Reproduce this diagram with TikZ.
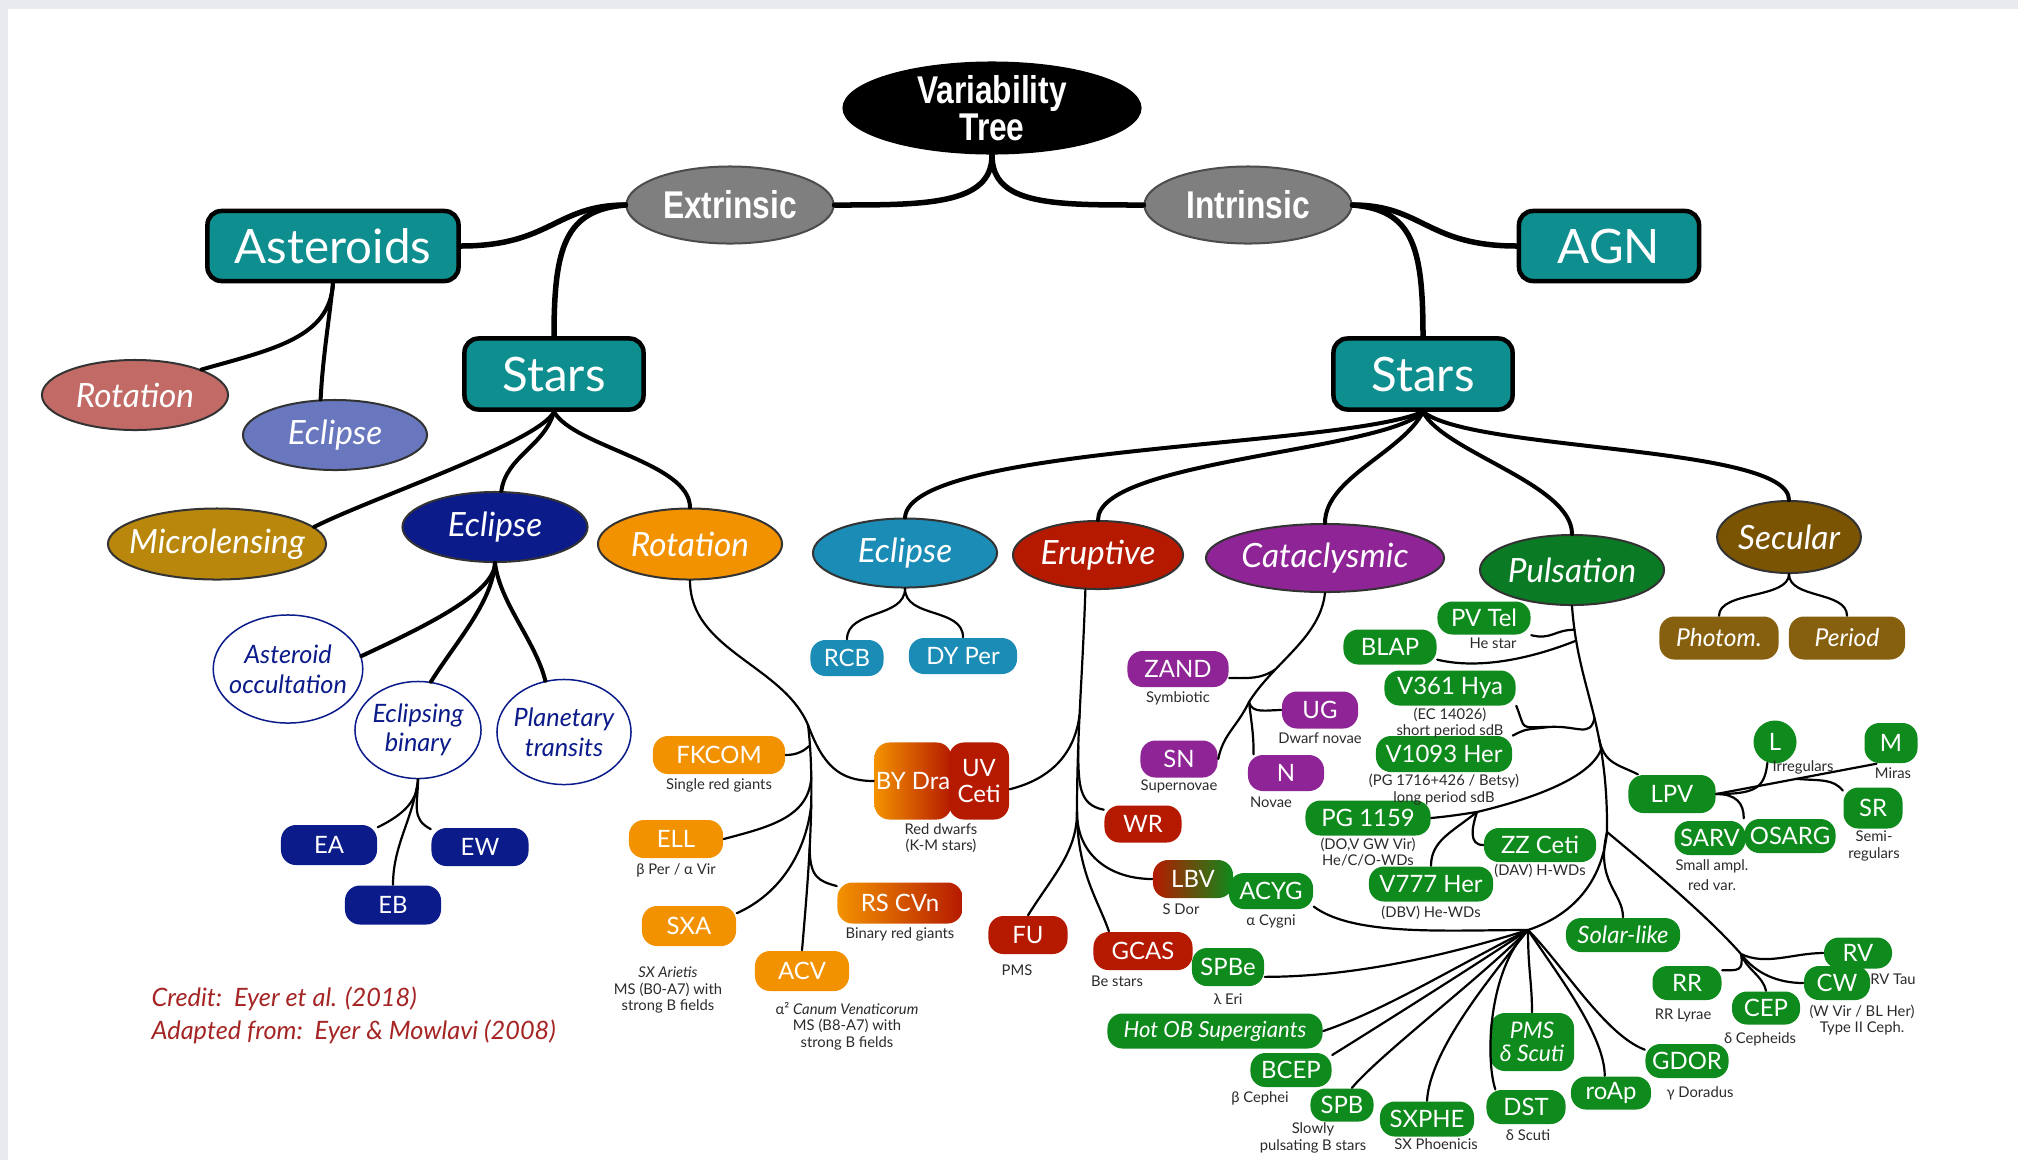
\documentclass[tikz,border=0pt]{standalone}
\usepackage{fontspec}
\setmainfont{Lato}
\newfontfamily\narrowsans[FakeStretch=0.82]{Liberation Sans}
\usetikzlibrary{positioning,shapes.geometric}
\definecolor{Frame}{HTML}{E8EAEE}
\definecolor{Teal}{HTML}{0E8E8E}
\definecolor{Slate}{HTML}{7F7F7F}
\definecolor{Rose}{HTML}{C26B66}
\definecolor{Lilac}{HTML}{6877BE}
\definecolor{Ochre}{HTML}{B8870B}
\definecolor{Navy}{HTML}{0B1B8A}
\definecolor{Amber}{HTML}{F39200}
\definecolor{Ocean}{HTML}{1B8CB5}
\definecolor{Crimson}{HTML}{B51A00}
\definecolor{Plum}{HTML}{8E2496}
\definecolor{Forest}{HTML}{0B7A24}
\definecolor{Leaf}{HTML}{0F8A1C}
\definecolor{Umber}{HTML}{7A5400}
\definecolor{Bronze}{HTML}{86600F}
\definecolor{Ink}{HTML}{2B2B2B}
\definecolor{Brick}{HTML}{A52525}

\begin{document}
\begin{tikzpicture}[x=0.01cm,y=0.01cm,
    sz/.style 2 args={minimum width=#1cm,minimum height=#2cm},
    box/.style={draw=black,line width=0.045cm,rounded corners=0.14cm,fill=Teal,text=white,
                inner sep=0pt,font=\fontsize{13.5}{15}\selectfont},
    split/.style={ellipse,draw=black!70,line width=0.02cm,fill=Slate,text=white,inner sep=0pt,
                  sz={2.07}{0.77},font=\narrowsans\bfseries\fontsize{11}{12}\selectfont},
    oval/.style={ellipse,draw=black!80,line width=0.02cm,text=white,inner sep=0pt,
                 font=\itshape\fontsize{9.5}{10}\selectfont},
    ring/.style={ellipse,draw=Navy,line width=0.015cm,fill=white,text=Navy,inner ysep=0pt,
                 inner xsep=-0.06cm,align=center,font=\itshape\fontsize{7.2}{8.4}\selectfont},
    pill/.style={rounded corners=0.15cm,text=white,inner sep=0pt,align=center,
                 font=\fontsize{6.8}{7.4}\selectfont},
    sub/.style={inner sep=0pt,align=center,text=Ink,font=\fontsize{4.2}{4.7}\selectfont},
    lvl1/.style={line width=0.055cm,line cap=round},
    lvl2/.style={line width=0.04cm,line cap=round},
    lvl3/.style={line width=0.022cm,line cap=round}]

\fill[Frame] (0,0) rectangle (2018,-1160);
\fill[white] (8,-9) rectangle (2018,-1160);
\useasboundingbox (0,0) rectangle (2018,-1160);

% top of the tree
\node[ellipse,fill=black,text=white,sz={2.99}{0.93},inner sep=0pt,align=center,
      font=\narrowsans\bfseries\fontsize{11}{10.5}\selectfont] (root) at (992,-108) {Variability\\Tree};
\node[split] (extr) at (730,-205) {Extrinsic};
\node[split] (intr) at (1248,-205) {Intrinsic};
\node[box,sz={2.51}{0.70}] (ast) at (333,-246) {Asteroids};
\node[box,sz={1.80}{0.70}] (agn) at (1609,-246) {AGN};
\node[box,sz={1.79}{0.71}] (starsL) at (554,-374) {Stars};
\node[box,sz={1.79}{0.71}] (starsR) at (1423,-374) {Stars};

% classes
\node[oval,fill=Rose,sz={1.86}{0.70}] (rotA) at (135,-395) {Rotation};
\node[oval,fill=Lilac,sz={1.84}{0.70}] (eclA) at (335,-435) {Eclipse};
\node[oval,fill=Ochre,sz={2.18}{0.71},inner xsep=-0.2cm] (micro) at (217,-544) {Microlensing};
\node[oval,fill=Navy,sz={1.85}{0.70}] (eclN) at (495,-527) {Eclipse};
\node[oval,fill=Amber,sz={1.84}{0.71}] (rotO) at (690,-544) {Rotation};
\node[oval,fill=Ocean,sz={1.84}{0.69}] (eclC) at (905,-553) {Eclipse};
\node[oval,fill=Crimson,sz={1.70}{0.68}] (eru) at (1098,-555) {Eruptive};
\node[oval,fill=Plum,sz={2.38}{0.68}] (cat) at (1325,-558) {Cataclysmic};
\node[oval,fill=Forest,sz={1.84}{0.70}] (puls) at (1572,-570) {Pulsation};
\node[oval,fill=Umber,sz={1.41}{0.72}] (sec) at (1789,-537) {Secular};

% eclipse (extrinsic)
\node[ring,sz={1.48}{1.08}] (aocc) at (288,-669) {Asteroid\\occultation};
\node[ring,sz={1.26}{0.97}] (ebin) at (418,-730) {Eclipsing\\binary};
\node[ring,sz={1.34}{1.05}] (ptr) at (564,-732) {Planetary\\transits};
\node[pill,fill=Navy,sz={0.96}{0.40}] (ea) at (329,-845) {EA};
\node[pill,fill=Navy,sz={0.97}{0.38}] (ew) at (480,-847) {EW};
\node[pill,fill=Navy,sz={0.96}{0.39}] (eb) at (393,-905) {EB};

% rotation
\node[pill,fill=Amber,sz={1.32}{0.38}] (fkcom) at (719,-755) {FKCOM};
\node[pill,fill=Amber,sz={0.94}{0.38}] (ell) at (676,-839) {ELL};
\node[pill,fill=Amber,sz={0.94}{0.40}] (sxa) at (689,-926) {SXA};
\node[pill,fill=Amber,sz={0.94}{0.40}] (acv) at (802,-971) {ACV};
\node[pill,left color=Amber,right color=Crimson,sz={1.25}{0.41}] (rscvn) at (900,-903) {RS CVn};
\node[pill,left color=Amber,right color=Crimson,sz={0.77}{0.77}] (bydra) at (913,-781) {BY Dra};
\node[pill,fill=Crimson,sz={0.60}{0.77}] (uvceti) at (979,-781) {UV\\Ceti};

% eclipse (intrinsic)
\node[pill,fill=Ocean,sz={0.73}{0.36}] (rcb) at (847,-658) {RCB};
\node[pill,fill=Ocean,sz={1.08}{0.36}] (dyper) at (963,-656) {DY Per};

% eruptive
\node[pill,fill=Crimson,sz={0.77}{0.37}] (wr) at (1143,-824) {WR};
\node[pill,fill=Crimson,sz={0.79}{0.38}] (fu) at (1028,-935) {FU};
\node[pill,fill=Crimson,sz={0.99}{0.38}] (gcas) at (1143,-951) {GCAS};
\node[pill,left color=Crimson,right color=Leaf,sz={0.80}{0.38}] (lbv) at (1193,-879) {LBV};
\node[pill,fill=Leaf,sz={0.84}{0.36}] (acyg) at (1271,-891) {ACYG};
\node[pill,fill=Leaf,sz={0.72}{0.38}] (spbe) at (1228,-967) {SPBe};

% cataclysmic
\node[pill,fill=Plum,sz={1.01}{0.36}] (zand) at (1178,-669) {ZAND};
\node[pill,fill=Plum,sz={0.76}{0.37}] (ug) at (1320,-710) {UG};
\node[pill,fill=Plum,sz={0.77}{0.37}] (sn) at (1179,-759) {SN};
\node[pill,fill=Plum,sz={0.76}{0.36}] (n) at (1286,-773) {N};

% pulsation
\node[pill,fill=Leaf,sz={0.93}{0.33}] (pvtel) at (1484,-618) {PV Tel};
\node[pill,fill=Leaf,sz={0.93}{0.35}] (blap) at (1390,-647) {BLAP};
\node[pill,fill=Leaf,sz={1.31}{0.35}] (v361) at (1450,-688) {V361 Hya};
\node[pill,fill=Leaf,sz={1.36}{0.36}] (v1093) at (1444,-754) {V1093 Her};
\node[pill,fill=Leaf,sz={1.25}{0.35}] (pg) at (1368,-818) {PG 1159};
\node[pill,fill=Leaf,sz={1.12}{0.34}] (zz) at (1540,-845) {ZZ Ceti};
\node[pill,fill=Leaf,sz={1.24}{0.35}] (v777) at (1431,-884) {V777 Her};
\node[pill,fill=Leaf,sz={1.14}{0.34},font=\itshape\fontsize{6.8}{7.4}\selectfont] (solar) at (1623,-935) {Solar-like};
\node[pill,fill=Leaf,sz={0.87}{0.38}] (lpv) at (1672,-794) {LPV};
\node[circle,fill=Leaf,text=white,minimum size=0.43cm,inner sep=0pt,font=\fontsize{6.8}{7.4}\selectfont] (lnode) at (1775,-742) {L};
\node[pill,fill=Leaf,sz={0.53}{0.40}] (m) at (1891,-743) {M};
\node[pill,fill=Leaf,sz={0.59}{0.41}] (sr) at (1873,-808) {SR};
\node[pill,fill=Leaf,sz={0.71}{0.34}] (sarv) at (1710,-838) {SARV};
\node[pill,fill=Leaf,sz={0.91}{0.34}] (osarg) at (1790,-836) {OSARG};
\node[pill,fill=Leaf,sz={0.68}{0.31}] (rv) at (1858,-953) {RV};
\node[pill,fill=Leaf,sz={0.66}{0.34}] (cw) at (1837,-983) {CW};
\node[pill,fill=Leaf,sz={0.68}{0.33}] (cep) at (1766,-1008) {CEP};
\node[pill,fill=Leaf,sz={0.69}{0.34}] (rr) at (1687,-983) {RR};
\node[pill,fill=Leaf,sz={0.83}{0.34}] (gdor) at (1687,-1061) {GDOR};
\node[pill,fill=Leaf,sz={0.80}{0.33}] (roap) at (1611,-1093) {roAp};
\node[pill,fill=Leaf,sz={0.79}{0.34}] (dst) at (1526,-1107) {DST};
\node[pill,fill=Leaf,sz={0.84}{0.58},font=\itshape\fontsize{6.5}{6.6}\selectfont] (pms) at (1532,-1042) {PMS\\δ Scuti};
\node[pill,fill=Leaf,sz={0.94}{0.35}] (sxphe) at (1427,-1119) {SXPHE};
\node[pill,fill=Leaf,sz={0.63}{0.33}] (spb) at (1342,-1105) {SPB};
\node[pill,fill=Leaf,sz={0.81}{0.34}] (bcep) at (1291,-1070) {BCEP};
\node[pill,fill=Leaf,sz={2.15}{0.35},font=\itshape\fontsize{6.3}{7}\selectfont] (hotob) at (1215,-1031) {Hot OB Supergiants};

% secular
\node[pill,fill=Bronze,sz={1.19}{0.43},font=\itshape\fontsize{7}{8}\selectfont] (photom) at (1719,-638) {Photom.};
\node[pill,fill=Bronze,sz={1.16}{0.43},font=\itshape\fontsize{7}{8}\selectfont] (period) at (1847,-638) {Period};

% small captions
\node[sub,below=0.03cm of fkcom] (fkcomL) {Single red giants};
\node[sub,below=0.04cm of ell] (ellL) {β Per / α Vir};
\node[sub] (sxaL) at (668,-990) {\textit{SX Arietis}\\MS (B0-A7) with\\strong B fields};
\node[sub] (acvL) at (847,-1026) {α² \textit{Canum Venaticorum}\\MS (B8-A7) with\\strong B fields};
\node[sub,below=0.03cm of rscvn] (rscvnL) {Binary red giants};
\node[sub] (bydraL) at (941,-838) {Red dwarfs\\(K-M stars)};
\node[sub] (fuL) at (1017,-970) {PMS};
\node[sub] (gcasL) at (1117,-981) {Be stars};
\node[sub] (lbvL) at (1181,-909) {S Dor};
\node[sub,below=0.04cm of acyg] (acygL) {α Cygni};
\node[sub,below=0.06cm of spbe] (spbeL) {λ Eri};
\node[sub,below=0.03cm of zand] (zandL) {Symbiotic};
\node[sub,below=0.03cm of ug] (ugL) {Dwarf novae};
\node[sub,below=0.01cm of sn] (snL) {Supernovae};
\node[sub] (nL) at (1271,-802) {Novae};
\node[sub] (pvtelL) at (1493,-643) {He star};
\node[sub,below=0.01cm of v361] (v361L) {(EC 14026)\\short period sdB};
\node[sub,below=0.01cm of v1093] (v1093L) {(PG 1716+426 / Betsy)\\long period sdB};
\node[sub,below=0.01cm of pg] (pgL) {(DO,V GW Vir)\\He/C/O-WDs};
\node[sub,below=0.01cm of zz] (zzL) {(DAV) H-WDs};
\node[sub,below=0.03cm of v777] (v777L) {(DBV) He-WDs};
\node[sub] (lnodeL) at (1803,-767) {Irregulars};
\node[sub] (mL) at (1893,-773) {Miras};
\node[sub] (srL) at (1874,-846) {Semi-\\regulars};
\node[sub,font=\fontsize{4.2}{5.7}\selectfont] (sarvL) at (1712,-875) {Small ampl.\\red var.};
\node[sub] (rvL) at (1893,-979) {RV Tau};
\node[sub] (cwL) at (1862,-1020) {(W Vir / BL Her)\\Type II Ceph.};
\node[sub] (cepL) at (1760,-1039) {δ Cepheids};
\node[sub] (rrL) at (1683,-1015) {RR Lyrae};
\node[sub] (gdorL) at (1700,-1093) {γ Doradus};
\node[sub] (dstL) at (1528,-1135) {δ Scuti};
\node[sub] (sxpheL) at (1436,-1144) {SX Phoenicis};
\node[sub] (spbL) at (1313,-1138) {Slowly\\pulsating B stars};
\node[sub] (bcepL) at (1260,-1098) {β Cephei};

\node[anchor=north west,align=left,text=Brick,inner sep=0pt,
      font=\itshape\fontsize{7.2}{9.4}\selectfont] (credit) at (151,-986)
      {Credit:\ \ Eyer et al. (2018)\\Adapted from:\ \ Eyer \& Mowlavi (2008)};

% branches, top
\draw[lvl1] (root.south) .. controls +(0,-50) and +(90,0) .. (extr.east);
\draw[lvl1] (root.south) .. controls +(0,-50) and +(-90,0) .. (intr.west);
\draw[lvl1] (extr.west) .. controls +(-70,0) and +(90,0) .. (ast.east);
\draw[lvl1] (extr.west) .. controls +(-60,-5) and +(0,90) .. (starsL.north);
\draw[lvl1] (intr.east) .. controls +(70,0) and +(-90,0) .. (agn.west);
\draw[lvl1] (intr.east) .. controls +(60,-5) and +(0,90) .. (starsR.north);

% asteroids and extrinsic stars
\draw[lvl2] (ast.south) .. controls +(-3,-55) and +(70,20) .. (rotA.north east);
\draw[lvl2] (ast.south) .. controls +(-5,-45) and +(2,40) .. (eclA.112);
\draw[lvl2] (starsL.south) .. controls +(-15,-30) and +(60,30) .. (micro.10);
\draw[lvl2] (starsL.south) .. controls +(-10,-35) and +(5,35) .. (eclN.80);
\draw[lvl2] (starsL.south) .. controls +(20,-35) and +(0,45) .. (rotO.north);
\draw[lvl2] (eclN.south) .. controls +(0,-30) and +(60,28) .. (aocc.10);
\draw[lvl2] (eclN.south) .. controls +(-3,-40) and +(25,40) .. (ebin.75);
\draw[lvl2] (eclN.south) .. controls +(5,-40) and +(-10,40) .. (ptr.110);
\draw[lvl3] (ebin.south) .. controls +(0,-25) and +(20,10) .. (ea.20);
\draw[lvl3] (ebin.south) .. controls +(0,-25) and +(-20,10) .. (ew.160);
\draw[lvl3] (ebin.south) .. controls +(-5,-40) and +(0,40) .. (eb.north);

% rotation trunk
\coordinate (rj0) at (808,-725);
\draw[lvl3] (rotO.south) .. controls +(0,-70) and +(-25,60) .. (rj0);
\draw[lvl3] (rj0) .. controls (816,-790) and (808,-880) .. (acv.north)
  coordinate[pos=0.1] (rj1) coordinate[pos=0.25] (rj2)
  coordinate[pos=0.37] (rj3) coordinate[pos=0.55] (rj4);
\draw[lvl3] (rj1) .. controls +(-5,-5) and +(12,0) .. (fkcom.east);
\draw[lvl3] (rj2) .. controls +(-3,-40) and +(45,12) .. (ell.east);
\draw[lvl3] (rj3) .. controls +(-5,-45) and +(45,20) .. (sxa.15);
\draw[lvl3] (rj4) .. controls +(0,-30) and +(-18,5) .. (rscvn.165);
\draw[lvl3] (rj0) .. controls +(15,-40) and +(-35,0) .. (bydra.west);

% intrinsic stars
\draw[lvl2] (starsR.south) .. controls +(-83,-36) and +(5,72) .. (eclC.north);
\draw[lvl2] (starsR.south) .. controls +(-40,-40) and +(0,60) .. (eru.north);
\draw[lvl2] (starsR.south) .. controls +(-20,-40) and +(0,45) .. (cat.north);
\draw[lvl2] (starsR.south) .. controls +(20,-40) and +(0,50) .. (puls.north);
\draw[lvl2] (starsR.south) .. controls +(50,-40) and +(0,55) .. (sec.north);

\draw[lvl3] (eclC.south) .. controls +(0,-30) and +(0,30) .. (rcb.north);
\draw[lvl3] (eclC.south) .. controls +(0,-30) and +(0,30) .. (dyper.north);
\draw[lvl3] (sec.south) .. controls +(0,-25) and +(0,25) .. (photom.north);
\draw[lvl3] (sec.south) .. controls +(0,-25) and +(0,25) .. (period.north);

% eruptive
\coordinate (ej) at (1077,-812);
\draw[lvl3] (eru.250) .. controls +(-3,-90) and +(0,80) .. (ej)
  coordinate[pos=0.55] (ej1) coordinate[pos=0.7] (ej2);
\draw[lvl3] (ej1) .. controls +(-5,-40) and +(40,10) .. (uvceti.-15);
\draw[lvl3] (ej2) .. controls +(0,-40) and +(-25,5) .. (wr.160);
\draw[lvl3] (ej) .. controls +(0,-45) and +(-40,0) .. (lbv.west);
\draw[lvl3] (ej) .. controls +(0,-60) and +(-10,30) .. (gcas.150);
\draw[lvl3] (ej) .. controls +(0,-40) and +(25,40) .. (fu.north);

% cataclysmic
\coordinate (cj) at (1249,-702);
\draw[lvl3] (cat.south) .. controls +(-5,-45) and +(25,40) .. (cj) coordinate[pos=0.7] (cj1);
\draw[lvl3] (cj1) .. controls +(-15,-10) and +(20,0) .. (zand.-10);
\draw[lvl3] (cj) .. controls +(-12,-25) and +(5,25) .. (sn.east);
\draw[lvl3] (cj) .. controls +(3,-25) and +(0,20) .. (n.150);
\draw[lvl3] (cj) .. controls +(3,-12) and +(-15,0) .. (ug.west);

% pulsation trunk
\coordinate (pj) at (1607,-832);
\draw[lvl3] (puls.south) .. controls (1578,-690) and (1608,-720) .. (pj)
  coordinate[pos=0.1] (pp1) coordinate[pos=0.15] (pp2) coordinate[pos=0.55] (pp3)
  coordinate[pos=0.65] (pp4) coordinate[pos=0.7] (pp5);
\draw[lvl3] (pvtel.-20) .. controls +(20,-5) and +(-20,0) .. (pp1);
\draw[lvl3] (blap.-15) .. controls +(50,-12) and +(-30,-12) .. (pp2);
\coordinate (vj) at (1548,-727);
\draw[lvl3] (v361.-15) .. controls +(10,-25) and +(-30,0) .. (vj);
\draw[lvl3] (v1093.15) .. controls +(15,8) and +(-20,-3) .. (vj);
\draw[lvl3] (vj) .. controls +(30,2) and +(-5,-20) .. (pp3);
\draw[lvl3] (pp4) .. controls +(5,-25) and +(-20,10) .. (lpv.150);
\coordinate (pgj) at (1477,-812);
\draw[lvl3] (pg.east) .. controls +(20,2) and +(-20,-3) .. (pgj) .. controls +(50,12) and +(-12,-30) .. (pp5);
\draw[lvl3] (pgj) .. controls +(-5,-15) and +(-15,0) .. (zz.west);
\draw[lvl3] (pgj) .. controls +(-25,-20) and +(0,25) .. (v777.north);

% lpv
\draw[lvl3] (lpv.east) -- (m.235) coordinate[pos=0.5] (srj);
\draw[lvl3] (lpv.east) .. controls +(40,0) and +(-3,-25) .. (lnode.250);
\draw[lvl3] (srj) .. controls +(25,-2) and +(-10,12) .. (sr.150);
\draw[lvl3] (lpv.east) .. controls +(20,0) and +(0,15) .. (osarg.north west);

% lower fans
\coordinate (hub) at (1528,-930);
\coordinate (cej) at (1741,-954);
\draw[lvl3] (pj) .. controls +(-5,-50) and +(45,15) .. (hub);
\draw[lvl3] (pj) .. controls +(-12,-50) and +(0,25) .. (solar.north);
\draw[lvl3] (pj) .. controls +(30,-25) and +(-35,40) .. (cej);
\draw[lvl3] (acyg.-20) .. controls +(40,-30) and +(-80,0) .. (hub);
\draw[lvl3] (hub) .. controls +(-80,-25) and +(90,0) .. (spbe.-15);
\draw[lvl3] (hub) .. controls +(-70,-35) and +(60,20) .. (hotob.east);
\draw[lvl3] (hub) .. controls +(-60,-40) and +(40,25) .. (bcep.20);
\draw[lvl3] (hub) .. controls +(-50,-50) and +(30,35) .. (spb.60);
\draw[lvl3] (hub) .. controls +(-40,-50) and +(3,50) .. (sxphe.north);
\draw[lvl3] (hub) .. controls +(-40,-40) and +(-10,30) .. (dst.150);
\draw[lvl3] (hub) .. controls +(0,-40) and +(0,30) .. (pms.north);
\draw[lvl3] (hub) .. controls +(30,-45) and +(0,40) .. (roap.110);
\draw[lvl3] (hub) .. controls +(35,-35) and +(-40,15) .. (gdor.165);
\draw[lvl3] (cej) .. controls +(25,-12) and +(-30,0) .. (rv.west);
\draw[lvl3] (cej) .. controls +(15,-20) and +(-25,0) .. (cw.west);
\draw[lvl3] (cej) .. controls +(5,-15) and +(-3,15) .. (cep.north);
\draw[lvl3] (cej) .. controls +(3,-18) and +(15,0) .. (rr.20);
\end{tikzpicture}
\end{document}
